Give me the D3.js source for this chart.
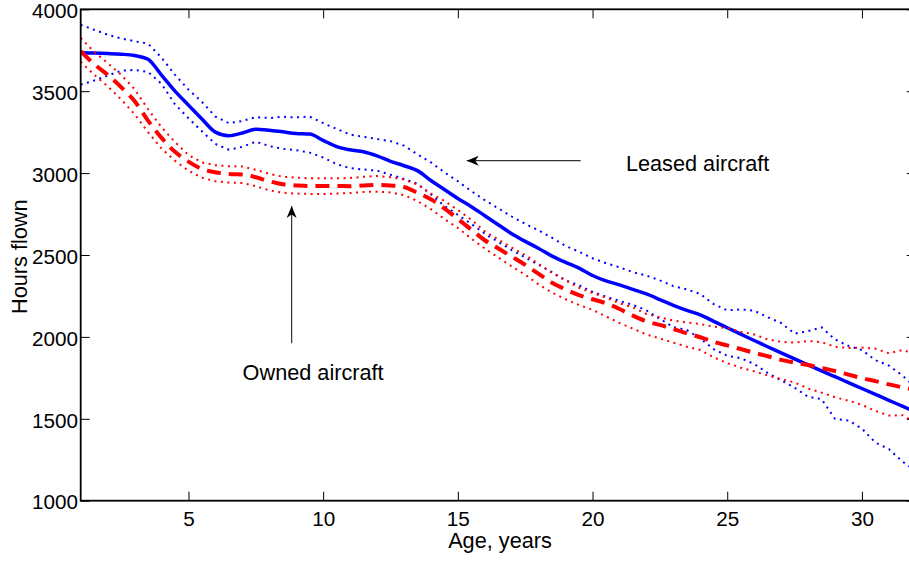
<!DOCTYPE html>
<html>
<head>
<meta charset="utf-8">
<script src="https://cdn.jsdelivr.net/npm/d3@7"></script>
<style>
  html, body { margin: 0; padding: 0; background: #fff; overflow: hidden; }
  svg { display: block; font-family: "Liberation Sans", Arial, Helvetica, sans-serif; }
</style>
</head>
<body>
<svg id="chart" width="909" height="561"></svg>
<script>
// Age grid (years) shared by every series
const ages = [1, 1.5, 2, 2.5, 3, 3.5, 4, 4.5, 5, 5.5, 6, 6.5, 7, 7.5, 8, 8.5, 9, 9.5, 10, 10.5,
  11, 11.5, 12, 12.5, 13, 13.5, 14, 14.5, 15, 15.5, 16, 16.5, 17, 17.5, 18, 18.5, 19, 19.5, 20, 20.5,
  21, 21.5, 22, 22.5, 23, 23.5, 24, 24.5, 25, 25.5, 26, 26.5, 27, 27.5, 28, 28.5, 29, 29.5, 30, 30.5,
  31, 31.5, 32];

// Leased aircraft: mean and confidence band
const leasedMean = [3735, 3733, 3730, 3726, 3718, 3695, 3598, 3500, 3415, 3330, 3250, 3228, 3245, 3268, 3262, 3252, 3242, 3238, 3200, 3162,
  3142, 3130, 3105, 3072, 3045, 3015, 2955, 2900, 2845, 2795, 2740, 2685, 2630, 2583, 2540, 2493, 2455, 2420, 2375, 2342,
  2318, 2290, 2262, 2228, 2193, 2162, 2134, 2095, 2056, 2017, 1978, 1940, 1903, 1866, 1829, 1793, 1757, 1721, 1685, 1649,
  1613, 1577, 1541];
const leasedHi = [3905, 3875, 3845, 3822, 3805, 3790, 3705, 3600, 3510, 3435, 3345, 3305, 3318, 3342, 3336, 3344, 3340, 3345, 3305, 3270,
  3235, 3222, 3208, 3195, 3168, 3115, 3065, 3005, 2950, 2890, 2835, 2785, 2735, 2690, 2650, 2605, 2555, 2520, 2480, 2450,
  2425, 2395, 2375, 2345, 2310, 2290, 2262, 2200, 2162, 2168, 2160, 2120, 2085, 2020, 2035, 2058, 1985, 1945, 1920, 1858,
  1825, 1765, 1690];
const leasedLo = [3540, 3565, 3595, 3625, 3630, 3618, 3545, 3420, 3335, 3255, 3178, 3143, 3160, 3192, 3165, 3148, 3140, 3125, 3095, 3055,
  3030, 3022, 3015, 2990, 2965, 2935, 2870, 2800, 2745, 2690, 2630, 2580, 2530, 2485, 2440, 2395, 2345, 2315, 2275, 2245,
  2220, 2195, 2162, 2110, 2060, 2042, 1990, 1925, 1885, 1870, 1835, 1780, 1735, 1690, 1635, 1620, 1500, 1490, 1440, 1355,
  1315, 1240, 1180];

// Owned aircraft: mean and confidence band
const ownedMean = [3745, 3665, 3600, 3525, 3440, 3320, 3215, 3130, 3070, 3025, 3005, 2995, 2992, 2975, 2950, 2932, 2925, 2921, 2921, 2922,
  2920, 2925, 2927, 2925, 2915, 2880, 2840, 2785, 2720, 2655, 2590, 2540, 2490, 2440, 2385, 2330, 2290, 2255, 2230, 2205,
  2170, 2130, 2095, 2073, 2048, 2022, 1998, 1970, 1948, 1926, 1903, 1882, 1860, 1843, 1828, 1810, 1792, 1770, 1748, 1730,
  1710, 1692, 1675];
const ownedHi = [3825, 3740, 3672, 3600, 3512, 3390, 3280, 3190, 3110, 3065, 3048, 3042, 3040, 3020, 2995, 2978, 2972, 2968, 2968, 2968,
  2970, 2978, 2982, 2975, 2960, 2930, 2875, 2830, 2775, 2715, 2645, 2595, 2545, 2500, 2445, 2390, 2345, 2300, 2268, 2240,
  2205, 2180, 2140, 2120, 2100, 2088, 2078, 2062, 2055, 2032, 2015, 1985, 1970, 1965, 1975, 1968, 1940, 1932, 1935, 1928,
  1900, 1920, 1895];
const ownedLo = [3680, 3600, 3530, 3450, 3360, 3250, 3150, 3075, 3015, 2972, 2950, 2942, 2940, 2920, 2895, 2880, 2875, 2873, 2872, 2875,
  2878, 2885, 2887, 2882, 2866, 2830, 2780, 2720, 2665, 2600, 2540, 2485, 2430, 2380, 2320, 2270, 2230, 2195, 2165, 2125,
  2085, 2050, 2015, 1990, 1965, 1940, 1920, 1875, 1840, 1812, 1790, 1765, 1742, 1722, 1685, 1660, 1632, 1610, 1585, 1548,
  1520, 1522, 1478];

const xTicks = [5, 10, 15, 20, 25, 30];
const yTicks = [1000, 1500, 2000, 2500, 3000, 3500, 4000];

// Text annotations with arrows, in data units
const annotations = [
  { label: 'Leased aircraft', textAt: [21.24, 3013], from: [19.56, 3076], to: [15.33, 3076] },
  { label: 'Owned aircraft', textAt: [7.01, 1737], from: [8.83, 1961], to: [8.83, 2799] }
];

const svg = d3.select('#chart');
const plot = { left: 80.7, top: 9.3, right: 915.8, bottom: 500.7 };

const x = d3.scaleLinear().domain([1, 32]).range([plot.left, plot.right]);
const y = d3.scaleLinear().domain([1000, 4000]).range([plot.bottom, plot.top]);

const blue = '#0000ff';
const red = '#ff0000';

const lines = [
  { values: leasedHi, color: blue, width: 2, dash: '2,4.5', curve: d3.curveLinear },
  { values: leasedLo, color: blue, width: 2, dash: '2,4.5', curve: d3.curveLinear },
  { values: leasedMean, color: blue, width: 3.5, dash: null, curve: d3.curveMonotoneX },
  { values: ownedHi, color: red, width: 2, dash: '2,4.5', curve: d3.curveLinear },
  { values: ownedLo, color: red, width: 2, dash: '2,4.5', curve: d3.curveLinear },
  { values: ownedMean, color: red, width: 4, dash: '14,8', curve: d3.curveMonotoneX }
];

svg.append('defs').append('clipPath')
  .attr('id', 'plot-clip')
  .append('rect')
  .attr('x', plot.left)
  .attr('y', plot.top)
  .attr('width', plot.right - plot.left)
  .attr('height', plot.bottom - plot.top);

// Series
const seriesGroup = svg.append('g').attr('clip-path', 'url(#plot-clip)');

lines.forEach(s => {
  const line = d3.line()
    .x((d, i) => x(ages[i]))
    .y(d => y(d))
    .curve(s.curve);

  seriesGroup.append('path')
    .datum(s.values)
    .attr('fill', 'none')
    .attr('stroke', s.color)
    .attr('stroke-width', s.width)
    .attr('stroke-dasharray', s.dash)
    .attr('d', line);
});

// Axes: ticks point inward on all four sides
const tickLen = 9;

const bottomAxis = svg.append('g')
  .attr('transform', `translate(0,${plot.bottom})`)
  .call(d3.axisBottom(x).tickValues(xTicks).tickSizeInner(-tickLen).tickSizeOuter(0).tickPadding(10.6));

const topAxis = svg.append('g')
  .attr('transform', `translate(0,${plot.top})`)
  .call(d3.axisTop(x).tickValues(xTicks).tickSizeInner(-tickLen).tickSizeOuter(0).tickFormat(''));

const leftAxis = svg.append('g')
  .attr('transform', `translate(${plot.left},0)`)
  .call(d3.axisLeft(y).tickValues(yTicks).tickFormat(d3.format('d'))
    .tickSizeInner(-tickLen).tickSizeOuter(0).tickPadding(2.7));

const rightAxis = svg.append('g')
  .attr('transform', `translate(${plot.right},0)`)
  .call(d3.axisRight(y).tickValues(yTicks).tickSizeInner(-tickLen).tickSizeOuter(0).tickFormat(''));

[bottomAxis, topAxis, leftAxis, rightAxis].forEach(g => {
  g.select('.domain').remove();
  g.selectAll('.tick line').attr('stroke', '#000').attr('stroke-width', 1);
  g.selectAll('.tick text')
    .attr('fill', '#000')
    .style('font-size', '20.7px')
    .style('font-family', '"Liberation Sans", Arial, Helvetica, sans-serif');
});

// nudge y labels so the top one sits inside the page like the original
leftAxis.selectAll('.tick text').attr('dy', '0.4em');

// Frame
svg.append('rect')
  .attr('x', plot.left)
  .attr('y', plot.top)
  .attr('width', plot.right - plot.left)
  .attr('height', plot.bottom - plot.top)
  .attr('fill', 'none')
  .attr('stroke', '#000')
  .attr('stroke-width', 1.8);

// Axis titles
svg.append('text')
  .attr('x', 500)
  .attr('y', 548)
  .attr('text-anchor', 'middle')
  .style('font-size', '21.7px')
  .text('Age, years');

svg.append('text')
  .attr('transform', 'translate(27,256.7) rotate(-90)')
  .attr('text-anchor', 'middle')
  .style('font-size', '21.7px')
  .text('Hours flown');

// Annotations
annotations.forEach(a => {
  const x1 = x(a.from[0]), y1 = y(a.from[1]);
  const x2 = x(a.to[0]), y2 = y(a.to[1]);
  const angle = Math.atan2(y2 - y1, x2 - x1) * 180 / Math.PI;

  svg.append('line')
    .attr('x1', x1).attr('y1', y1)
    .attr('x2', x2).attr('y2', y2)
    .attr('stroke', '#333')
    .attr('stroke-width', 1.2);

  svg.append('path')
    .attr('d', 'M0,0L-12,-5L-8.5,0L-12,5Z')
    .attr('transform', `translate(${x2},${y2}) rotate(${angle})`)
    .attr('fill', '#000');

  svg.append('text')
    .attr('x', x(a.textAt[0]))
    .attr('y', y(a.textAt[1]))
    .style('font-size', '21.7px')
    .text(a.label);
});
</script>
</body>
</html>
